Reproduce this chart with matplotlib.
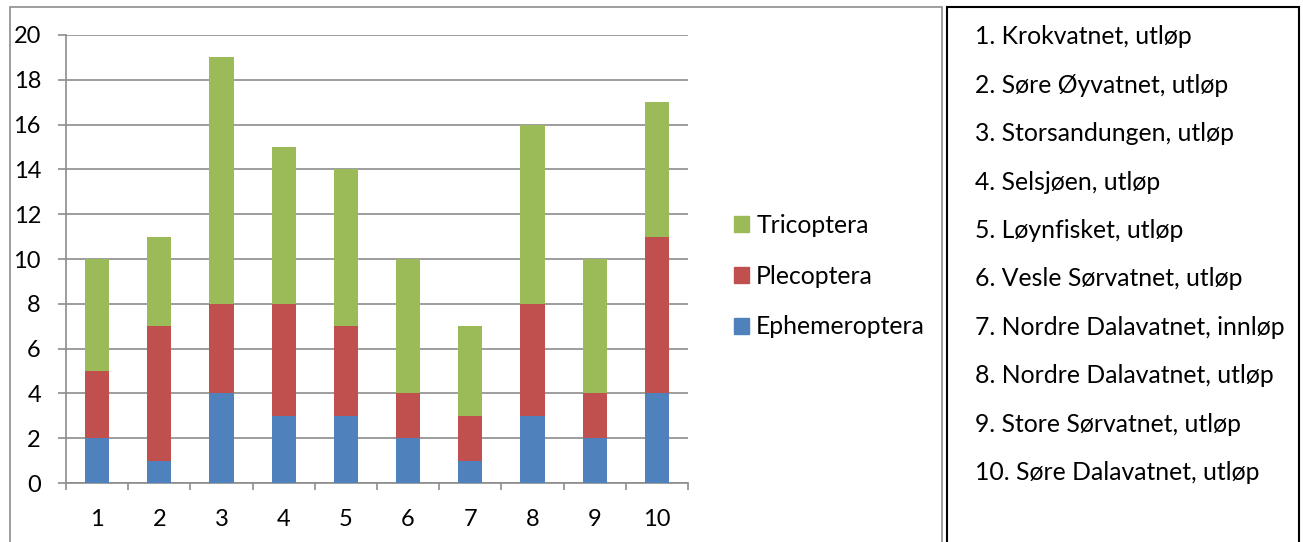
import matplotlib
matplotlib.use("Agg")
import matplotlib.pyplot as plt
from matplotlib.patches import Rectangle, Patch

plt.rcParams['font.family'] = ['Lato', 'DejaVu Sans']

categories = ['1', '2', '3', '4', '5', '6', '7', '8', '9', '10']
ephemeroptera = [2, 1, 4, 3, 3, 2, 1, 3, 2, 4]
plecoptera = [3, 6, 4, 5, 4, 2, 2, 5, 2, 7]
tricoptera = [5, 4, 11, 7, 7, 6, 4, 8, 6, 6]
site_names = [
    "1. Krokvatnet, utløp",
    "2. Søre Øyvatnet, utløp",
    "3. Storsandungen, utløp",
    "4. Selsjøen, utløp",
    "5. Løynfisket, utløp",
    "6. Vesle Sørvatnet, utløp",
    "7. Nordre Dalavatnet, innløp",
    "8. Nordre Dalavatnet, utløp",
    "9. Store Sørvatnet, utløp",
    "10. Søre Dalavatnet, utløp",
]
y_ticks = [0, 2, 4, 6, 8, 10, 12, 14, 16, 18, 20]

c_e, c_p, c_t = '#4F81BD', '#C0504D', '#9BBB59'
FS = 17
FS_TXT = 17.8

W, H = 1303, 542
fig = plt.figure(figsize=(W / 100, H / 100), dpi=100)

def fx(px):
    return px / W

def fy(py):
    return 1 - py / H

# Frames
fig.add_artist(Rectangle((fx(10), fy(560)), fx(942) - fx(10), fy(7) - fy(560),
                         transform=fig.transFigure, fill=False, edgecolor='#8c8c8c', lw=1.2))
fig.add_artist(Rectangle((fx(947), fy(560)), fx(1299) - fx(947), fy(7) - fy(560),
                         transform=fig.transFigure, fill=False, edgecolor='black', lw=1.5))

ax = fig.add_axes([fx(66), fy(483), fx(688) - fx(66), fy(35) - fy(483)])
x = list(range(1, len(categories) + 1))
bw = 0.39
bottom2 = [a + b for a, b in zip(ephemeroptera, plecoptera)]
ax.bar(x, ephemeroptera, bw, color=c_e, zorder=3)
ax.bar(x, plecoptera, bw, bottom=ephemeroptera, color=c_p, zorder=3)
ax.bar(x, tricoptera, bw, bottom=bottom2, color=c_t, zorder=3)

ax.set_xlim(0.5, 10.5)
ax.set_ylim(0, 20)
ax.set_yticks(y_ticks)
ax.set_yticklabels([str(v) for v in y_ticks])
ax.yaxis.grid(True, color='#8c8c8c', lw=1.2, zorder=0)
ax.set_axisbelow(True)
for s in ['top', 'right']:
    ax.spines[s].set_visible(False)
for s in ['left', 'bottom']:
    ax.spines[s].set_color('#8c8c8c')
    ax.spines[s].set_linewidth(1.2)
ax.tick_params(axis='y', length=6, width=1.2, color='#8c8c8c', pad=12, labelsize=FS)
ax.set_xticks(x)
ax.set_xticklabels(categories)
ax.set_xticks([i + 0.5 for i in range(0, 11)], minor=True)
ax.tick_params(axis='x', which='major', length=0, pad=19, labelsize=FS)
ax.tick_params(axis='x', which='minor', length=5, width=1.2, color='#8c8c8c')

handles = [Patch(color=c_t), Patch(color=c_p), Patch(color=c_e)]
fig.legend(handles, ['Tricoptera', 'Plecoptera', 'Ephemeroptera'],
           loc='center left', bbox_to_anchor=(fx(734), fy(276)),
           frameon=False, fontsize=FS_TXT, labelspacing=1.13, borderpad=0,
           borderaxespad=0,
           handlelength=0.6, handleheight=0.6, handletextpad=0.3)

y0 = 37
dy = 48.4
for i, name in enumerate(site_names):
    fig.text(fx(975), fy(y0 + i * dy), name, fontsize=FS_TXT, va='center', ha='left')

fig.savefig('out.png', dpi=100)
